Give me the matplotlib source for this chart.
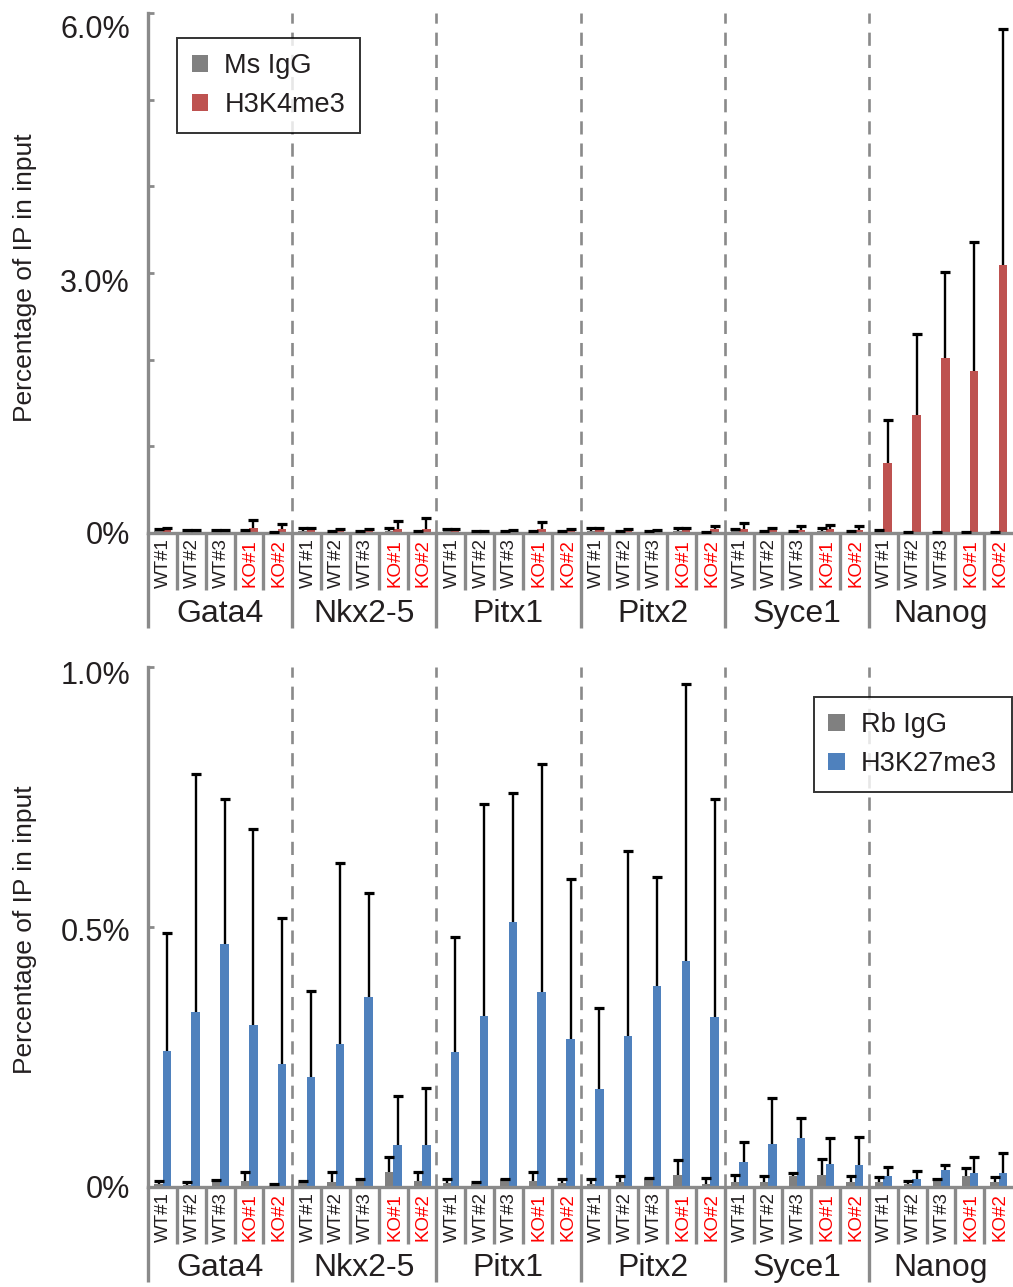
import numpy as np
import matplotlib
matplotlib.use("Agg")
import matplotlib.pyplot as plt
import matplotlib.transforms as mtransforms
from matplotlib.patches import Patch

plt.rcParams['font.family'] = ['Liberation Sans', 'DejaVu Sans']

# ── データ ──
genes = ["Gata4", "Nkx2-5", "Pitx1", "Pitx2", "Syce1", "Nanog"]
samples = ["WT#1", "WT#2", "WT#3", "KO#1", "KO#2"]

# 上段: H3K4me3 ChIP (% of input)
ms_igg = [0.02, 0.01, 0.01, 0.01, 0.005,
          0.02, 0.01, 0.01, 0.02, 0.01,
          0.02, 0.01, 0.01, 0.01, 0.01,
          0.02, 0.01, 0.01, 0.02, 0.005,
          0.02, 0.01, 0.01, 0.02, 0.01,
          0.02, 0.01, 0.01, 0.01, 0.005]
ms_igg_err = [0.03, 0.02, 0.02, 0.02, 0.01,
              0.04, 0.01, 0.01, 0.04, 0.01,
              0.03, 0.01, 0.01, 0.01, 0.01,
              0.04, 0.01, 0.01, 0.04, 0.005,
              0.03, 0.01, 0.01, 0.04, 0.01,
              0.01, 0.005, 0.005, 0.005, 0.005]
h3k4 = [0.03, 0.01, 0.01, 0.06, 0.045,
        0.03, 0.02, 0.02, 0.045, 0.045,
        0.03, 0.01, 0.02, 0.045, 0.03,
        0.03, 0.02, 0.02, 0.03, 0.045,
        0.05, 0.03, 0.04, 0.05, 0.04,
        0.81, 1.36, 2.02, 1.87, 3.09]
h3k4_err = [0.03, 0.02, 0.02, 0.09, 0.055,
            0.03, 0.03, 0.03, 0.095, 0.125,
            0.02, 0.01, 0.02, 0.085, 0.02,
            0.03, 0.03, 0.015, 0.03, 0.04,
            0.07, 0.03, 0.04, 0.04, 0.04,
            0.49, 0.94, 0.99, 1.49, 2.73]

# 下段: H3K27me3 ChIP (% of input)
rb_igg = [0.006, 0.004, 0.012, 0.012, 0.004,
          0.007, 0.010, 0.015, 0.028, 0.012,
          0.007, 0.005, 0.015, 0.012, 0.007,
          0.006, 0.009, 0.017, 0.024, 0.006,
          0.009, 0.009, 0.022, 0.024, 0.009,
          0.009, 0.006, 0.015, 0.021, 0.009]
rb_igg_err = [0.006, 0.006, 0.001, 0.017, 0.002,
              0.005, 0.018, 0.001, 0.029, 0.016,
              0.008, 0.004, 0.001, 0.016, 0.008,
              0.009, 0.012, 0.001, 0.027, 0.012,
              0.015, 0.012, 0.005, 0.030, 0.012,
              0.010, 0.006, 0.001, 0.015, 0.010]
h3k27 = [0.262, 0.337, 0.467, 0.312, 0.237,
         0.212, 0.275, 0.365, 0.081, 0.081,
         0.260, 0.329, 0.510, 0.375, 0.285,
         0.188, 0.290, 0.387, 0.435, 0.327,
         0.048, 0.083, 0.095, 0.044, 0.042,
         0.021, 0.015, 0.033, 0.026, 0.026]
h3k27_err = [0.226, 0.457, 0.279, 0.376, 0.280,
             0.165, 0.348, 0.200, 0.094, 0.109,
             0.221, 0.408, 0.248, 0.438, 0.307,
             0.156, 0.356, 0.209, 0.532, 0.419,
             0.038, 0.088, 0.037, 0.050, 0.055,
             0.017, 0.015, 0.009, 0.032, 0.039]

GRAY = "#808080"
RED = "#BE5250"
BLUE = "#4F81BD"
AXIS = "#8A8A8A"
TXT = "#231F20"

W, H = 1013, 1287
fig = plt.figure(figsize=(W / 100, H / 100), dpi=100)

AX_H_PX = 520.0


def px(d):
    # 軸下方向のピクセル距離 -> axes fraction
    return -d / AX_H_PX


def draw_panel(ax, igg, igg_err, chip, chip_err, color, ymax, ticks, ticklabels,
               label_shift, legend_labels, legend_loc, legend_anchor):
    n = len(genes) * len(samples)
    x = np.arange(n) + 0.5
    bw = 8.5 / (865 / n)
    off = 4.2 / (865 / n)
    for xs, vals, errs, c in [(x - off + 0.01, igg, igg_err, GRAY),
                              (x + off + 0.01, chip, chip_err, color)]:
        vals = np.array(vals)
        errs = np.array(errs)
        ax.bar(xs, vals, width=bw, color=c, zorder=2)
        ax.errorbar(xs, vals, yerr=[np.zeros(n), errs], fmt="none",
                    ecolor="black", elinewidth=1.7, capsize=0, zorder=3)
        ax.plot(xs, vals + errs, ls="none", marker="_", ms=7, mew=2.3,
                color="black", zorder=3)

    ax.set_xlim(0, n)
    ax.set_ylim(0, ymax)
    for s in ["top", "right"]:
        ax.spines[s].set_visible(False)
    for s in ["left", "bottom"]:
        ax.spines[s].set_color(AXIS)
        ax.spines[s].set_linewidth(2.4)
    ax.set_xticks([])
    ax.set_yticks(ticks)
    ax.set_yticklabels(ticklabels, fontsize=22, color=TXT)
    ax.tick_params(axis="y", direction="in", length=4, width=2, color=AXIS, pad=13)
    # Excel風にラベルを少し下へずらす
    for lab, v in zip(ax.get_yticklabels(), ticks):
        dy = -label_shift * v / ymax
        lab.set_transform(lab.get_transform() +
                          mtransforms.ScaledTranslation(0, dy / 100, fig.dpi_scale_trans))

    # グループ区切り (破線)
    for g in range(1, len(genes)):
        ax.axvline(g * len(samples), color=AXIS, lw=1.9,
                   linestyle=(0, (5, 3.4)), zorder=1)

    # カテゴリ軸 (区切り線とラベル)
    tr = ax.get_xaxis_transform()
    for i in range(n):
        bottom = px(95) if i % len(samples) == 0 else px(57)
        ax.plot([i, i], [0, bottom], color=AXIS, lw=2.4, transform=tr,
                clip_on=False, solid_capstyle="butt")
    for i in range(n):
        lab = samples[i % len(samples)]
        ax.text(i + 0.55, px(30), lab, transform=tr, rotation=90,
                ha="center", va="center", fontsize=13.5,
                color="#FF0000" if lab.startswith("KO") else TXT)
    for g, name in enumerate(genes):
        ax.text(g * len(samples) + len(samples) / 2, px(81), name, transform=tr,
                ha="center", va="center", fontsize=23, color=TXT)

    handles = [Patch(facecolor=GRAY), Patch(facecolor=color)]
    leg = ax.legend(handles, legend_labels, loc=legend_loc, bbox_to_anchor=legend_anchor,
                    fontsize=19.5, frameon=True, fancybox=False, handlelength=0.6,
                    handleheight=0.6, handletextpad=0.6, labelspacing=0.5,
                    borderpad=0.55, borderaxespad=0)
    leg.get_frame().set_edgecolor("black")
    leg.get_frame().set_linewidth(1.4)
    for t in leg.get_texts():
        t.set_color(TXT)


left = 148 / W
width = 865 / W

ax1 = fig.add_axes([left, (H - 533) / H, width, AX_H_PX / H])
draw_panel(ax1, ms_igg, ms_igg_err, h3k4, h3k4_err, RED, 6.0,
           [0, 1, 2, 3, 4, 5, 6], ["0%", "", "", "3.0%", "", "", "6.0%"], 14,
           ["Ms IgG", "H3K4me3"], "upper left", ((177 - 148) / 865, (533 - 38) / 520))

ax2 = fig.add_axes([left, (H - 1187) / H, width, AX_H_PX / H])
draw_panel(ax2, rb_igg, rb_igg_err, h3k27, h3k27_err, BLUE, 1.0,
           [0, 0.5, 1.0], ["0%", "0.5%", "1.0%"], 5,
           ["Rb IgG", "H3K27me3"], "upper right", ((1012 - 148) / 865, (1187 - 697) / 520))

fig.text(25 / W, 1 - 278 / H, "Percentage of IP in input", rotation=90,
         ha="center", va="center", fontsize=19, color=TXT)
fig.text(25 / W, 1 - 930 / H, "Percentage of IP in input", rotation=90,
         ha="center", va="center", fontsize=19, color=TXT)

fig.savefig("out.png", dpi=100)
